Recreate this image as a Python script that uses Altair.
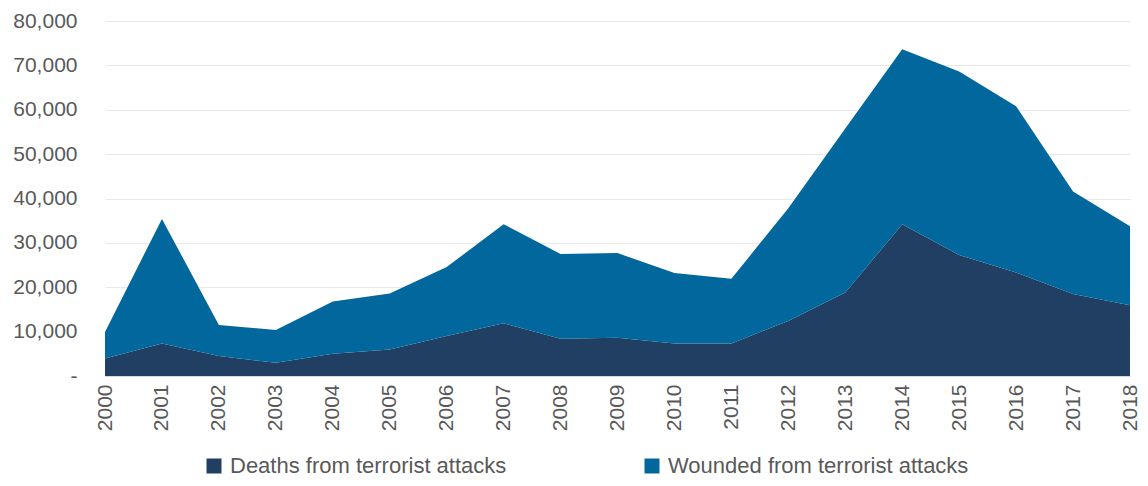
import altair as alt
import pandas as pd

years = list(range(2000, 2019))
deaths = [3960, 7350, 4480, 2990, 5020, 6000, 9000, 11880, 8400, 8640,
          7350, 7350, 12400, 18820, 34200, 27260, 23350, 18500, 15950]
totals = [9910, 35400, 11500, 10360, 16790, 18600, 24550, 34200, 27490, 27700,
          23190, 21900, 37830, 55800, 73640, 68600, 60800, 41580, 33750]
wounded = [t - d for t, d in zip(totals, deaths)]

series = ["Deaths from terrorist attacks", "Wounded from terrorist attacks"]
colors = ["#203F63", "#02679C"]

rows = []
for y, d, w in zip(years, deaths, wounded):
    rows.append({"year": y, "series": series[0], "value": d, "ord": 0})
    rows.append({"year": y, "series": series[1], "value": w, "ord": 1})
df = pd.DataFrame(rows)

FONT = "Liberation Sans"
GREY = "#595959"

chart = alt.Chart(df).mark_area(opacity=1).encode(
    x=alt.X("year:Q",
            scale=alt.Scale(domain=[2000, 2018], nice=False, zero=False),
            axis=alt.Axis(values=years, format="d", labelAngle=-90, grid=False,
                          ticks=False, domain=True, domainColor="#D9D9D9",
                          labelFlush=False, labelOverlap=False, labelPadding=8,
                          labelFontSize=21, labelColor=GREY, labelFont=FONT,
                          title=None)),
    y=alt.Y("value:Q", stack="zero",
            scale=alt.Scale(domain=[0, 80000], nice=False),
            axis=alt.Axis(values=list(range(0, 80001, 10000)),
                          labelExpr="datum.value == 0 ? '-\u2007' : format(datum.value, ',')",
                          grid=True, gridColor="#E8E8E8", ticks=False, domain=False,
                          labelPadding=28, labelFontSize=21, labelColor=GREY,
                          labelFont=FONT, title=None)),
    color=alt.Color("series:N",
                    scale=alt.Scale(domain=series, range=colors),
                    legend=alt.Legend(orient="none", legendX=98, legendY=434,
                                      direction="horizontal", columns=2,
                                      title=None, symbolType="square",
                                      symbolSize=225, symbolStrokeWidth=0,
                                      labelFontSize=22, labelFont=FONT,
                                      labelColor=GREY, labelLimit=400,
                                      labelOffset=5, columnPadding=110,
                                      gridAlign="all")),
    order=alt.Order("ord:Q"),
).properties(
    width=1025, height=355,
    autosize=alt.AutoSizeParams(type="none"),
    padding={"left": 97, "top": 13, "right": 10, "bottom": 102},
).configure_view(stroke=None)

chart.save("out.html", embed_options={"renderer": "svg", "actions": False})
